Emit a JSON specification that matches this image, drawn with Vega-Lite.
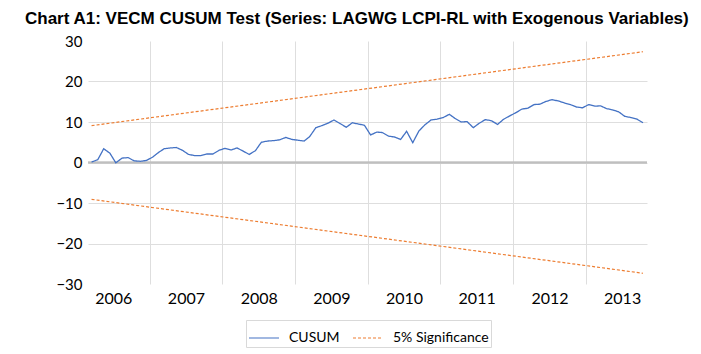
{
  "$schema": "https://vega.github.io/schema/vega-lite/v6.json",
  "width": 559,
  "height": 243,
  "autosize": {"type": "none"},
  "padding": {"left": 88, "top": 41, "right": 54, "bottom": 70},
  "background": "white",
  "title": {
    "text": "Chart A1: VECM CUSUM Test (Series: LAGWG LCPI-RL with Exogenous Variables)",
    "font": "Liberation Sans", "fontSize": 17, "fontWeight": "bold", "color": "#000000",
    "anchor": "start", "frame": "group", "dx": -63, "offset": 6
  },
  "config": {
    "view": {"stroke": null},
    "legend": {
      "orient": "none", "legendX": 158, "legendY": 279, "direction": "horizontal", "title": null,
      "labelFont": "Lato", "labelFontSize": 14, "labelColor": "#000000",
      "symbolType": "stroke", "symbolSize": 900, "symbolStrokeWidth": 1.2,
      "strokeColor": "#d9d9d9", "padding": 2, "columnPadding": 10, "labelOffset": 9
    }
  },
  "datasets": {
    "cusum": [
      {"date": "2006-03-15", "series": "CUSUM", "value": 0.1},
      {"date": "2006-04-15", "series": "CUSUM", "value": 0.7},
      {"date": "2006-05-15", "series": "CUSUM", "value": 3.4},
      {"date": "2006-06-15", "series": "CUSUM", "value": 2.3},
      {"date": "2006-07-15", "series": "CUSUM", "value": -0.1},
      {"date": "2006-08-15", "series": "CUSUM", "value": 1.1},
      {"date": "2006-09-15", "series": "CUSUM", "value": 1.2},
      {"date": "2006-10-15", "series": "CUSUM", "value": 0.4},
      {"date": "2006-11-15", "series": "CUSUM", "value": 0.3},
      {"date": "2006-12-15", "series": "CUSUM", "value": 0.5},
      {"date": "2007-01-15", "series": "CUSUM", "value": 1.3},
      {"date": "2007-02-15", "series": "CUSUM", "value": 2.5},
      {"date": "2007-03-15", "series": "CUSUM", "value": 3.4},
      {"date": "2007-04-15", "series": "CUSUM", "value": 3.6},
      {"date": "2007-05-15", "series": "CUSUM", "value": 3.7},
      {"date": "2007-06-15", "series": "CUSUM", "value": 3.0},
      {"date": "2007-07-15", "series": "CUSUM", "value": 2.0},
      {"date": "2007-08-15", "series": "CUSUM", "value": 1.7},
      {"date": "2007-09-15", "series": "CUSUM", "value": 1.7},
      {"date": "2007-10-15", "series": "CUSUM", "value": 2.1},
      {"date": "2007-11-15", "series": "CUSUM", "value": 2.1},
      {"date": "2007-12-15", "series": "CUSUM", "value": 3.0},
      {"date": "2008-01-15", "series": "CUSUM", "value": 3.5},
      {"date": "2008-02-15", "series": "CUSUM", "value": 3.1},
      {"date": "2008-03-15", "series": "CUSUM", "value": 3.6},
      {"date": "2008-04-15", "series": "CUSUM", "value": 2.8},
      {"date": "2008-05-15", "series": "CUSUM", "value": 2.0},
      {"date": "2008-06-15", "series": "CUSUM", "value": 2.9},
      {"date": "2008-07-15", "series": "CUSUM", "value": 5.0},
      {"date": "2008-08-15", "series": "CUSUM", "value": 5.3},
      {"date": "2008-09-15", "series": "CUSUM", "value": 5.4},
      {"date": "2008-10-15", "series": "CUSUM", "value": 5.6},
      {"date": "2008-11-15", "series": "CUSUM", "value": 6.2},
      {"date": "2008-12-15", "series": "CUSUM", "value": 5.7},
      {"date": "2009-01-15", "series": "CUSUM", "value": 5.5},
      {"date": "2009-02-15", "series": "CUSUM", "value": 5.3},
      {"date": "2009-03-15", "series": "CUSUM", "value": 6.4},
      {"date": "2009-04-15", "series": "CUSUM", "value": 8.6},
      {"date": "2009-05-15", "series": "CUSUM", "value": 9.1},
      {"date": "2009-06-15", "series": "CUSUM", "value": 9.7},
      {"date": "2009-07-15", "series": "CUSUM", "value": 10.5},
      {"date": "2009-08-15", "series": "CUSUM", "value": 9.6},
      {"date": "2009-09-15", "series": "CUSUM", "value": 8.7},
      {"date": "2009-10-15", "series": "CUSUM", "value": 9.8},
      {"date": "2009-11-15", "series": "CUSUM", "value": 9.5},
      {"date": "2009-12-15", "series": "CUSUM", "value": 9.2},
      {"date": "2010-01-15", "series": "CUSUM", "value": 6.8},
      {"date": "2010-02-15", "series": "CUSUM", "value": 7.5},
      {"date": "2010-03-15", "series": "CUSUM", "value": 7.4},
      {"date": "2010-04-15", "series": "CUSUM", "value": 6.5},
      {"date": "2010-05-15", "series": "CUSUM", "value": 6.3},
      {"date": "2010-06-15", "series": "CUSUM", "value": 5.7},
      {"date": "2010-07-15", "series": "CUSUM", "value": 7.7},
      {"date": "2010-08-15", "series": "CUSUM", "value": 4.9},
      {"date": "2010-09-15", "series": "CUSUM", "value": 7.8},
      {"date": "2010-10-15", "series": "CUSUM", "value": 9.3},
      {"date": "2010-11-15", "series": "CUSUM", "value": 10.5},
      {"date": "2010-12-15", "series": "CUSUM", "value": 10.7},
      {"date": "2011-01-15", "series": "CUSUM", "value": 11.1},
      {"date": "2011-02-15", "series": "CUSUM", "value": 11.9},
      {"date": "2011-03-15", "series": "CUSUM", "value": 10.9},
      {"date": "2011-04-15", "series": "CUSUM", "value": 10.0},
      {"date": "2011-05-15", "series": "CUSUM", "value": 10.1},
      {"date": "2011-06-15", "series": "CUSUM", "value": 8.6},
      {"date": "2011-07-15", "series": "CUSUM", "value": 9.7},
      {"date": "2011-08-15", "series": "CUSUM", "value": 10.6},
      {"date": "2011-09-15", "series": "CUSUM", "value": 10.3},
      {"date": "2011-10-15", "series": "CUSUM", "value": 9.4},
      {"date": "2011-11-15", "series": "CUSUM", "value": 10.7},
      {"date": "2011-12-15", "series": "CUSUM", "value": 11.5},
      {"date": "2012-01-15", "series": "CUSUM", "value": 12.3},
      {"date": "2012-02-15", "series": "CUSUM", "value": 13.2},
      {"date": "2012-03-15", "series": "CUSUM", "value": 13.4},
      {"date": "2012-04-15", "series": "CUSUM", "value": 14.3},
      {"date": "2012-05-15", "series": "CUSUM", "value": 14.4},
      {"date": "2012-06-15", "series": "CUSUM", "value": 15.1},
      {"date": "2012-07-15", "series": "CUSUM", "value": 15.5},
      {"date": "2012-08-15", "series": "CUSUM", "value": 15.2},
      {"date": "2012-09-15", "series": "CUSUM", "value": 14.7},
      {"date": "2012-10-15", "series": "CUSUM", "value": 14.3},
      {"date": "2012-11-15", "series": "CUSUM", "value": 13.7},
      {"date": "2012-12-15", "series": "CUSUM", "value": 13.5},
      {"date": "2013-01-15", "series": "CUSUM", "value": 14.3},
      {"date": "2013-02-15", "series": "CUSUM", "value": 13.9},
      {"date": "2013-03-15", "series": "CUSUM", "value": 14.0},
      {"date": "2013-04-15", "series": "CUSUM", "value": 13.3},
      {"date": "2013-05-15", "series": "CUSUM", "value": 13.0},
      {"date": "2013-06-15", "series": "CUSUM", "value": 12.5},
      {"date": "2013-07-15", "series": "CUSUM", "value": 11.4},
      {"date": "2013-08-15", "series": "CUSUM", "value": 11.1},
      {"date": "2013-09-15", "series": "CUSUM", "value": 10.7},
      {"date": "2013-10-15", "series": "CUSUM", "value": 9.8}
    ],
    "sig": [
      {"date": "2006-03-15", "series": "5% Significance", "band": "upper", "value": 9.1},
      {"date": "2013-10-15", "series": "5% Significance", "band": "upper", "value": 27.35},
      {"date": "2006-03-15", "series": "5% Significance", "band": "lower", "value": -9.1},
      {"date": "2013-10-15", "series": "5% Significance", "band": "lower", "value": -27.35}
    ]
  },
  "resolve": {"axis": {"x": "independent"}},
  "layer": [
    {
      "data": {"name": "sig"},
      "mark": {"type": "rule", "color": "#bfbfbf", "strokeWidth": 1.6},
      "encoding": {
        "y": {
          "datum": 0, "type": "quantitative", "scale": {"domain": [-30, 30], "nice": false},
          "axis": {
            "title": null, "domain": false, "ticks": false, "grid": true,
            "values": [-30, -20, -10, 0, 10, 20, 30],
            "labelFont": "Lato", "labelFontSize": 15, "labelColor": "#000000", "labelPadding": 6,
            "gridColor": {"condition": {"test": "abs(datum.value) == 30", "value": "transparent"}, "value": "#dedede"},
            "gridWidth": 1
          }
        }
      }
    },
    {
      "data": {"name": "sig"},
      "mark": {"type": "line", "strokeWidth": 1.2},
      "encoding": {
        "x": {
          "field": "date", "type": "temporal",
          "scale": {"domain": [{"year": 2006, "month": 2, "date": 25, "utc": true}, {"year": 2013, "month": 11, "date": 4, "utc": true}]},
          "axis": {
            "orient": "bottom", "title": null, "labels": false, "ticks": false, "domain": false,
            "grid": true, "gridColor": "#dedede", "gridWidth": 1,
            "values": [
              {"year": 2007, "month": 1, "date": 1, "utc": true},
              {"year": 2008, "month": 1, "date": 1, "utc": true},
              {"year": 2009, "month": 1, "date": 1, "utc": true},
              {"year": 2010, "month": 1, "date": 1, "utc": true},
              {"year": 2011, "month": 1, "date": 1, "utc": true},
              {"year": 2012, "month": 1, "date": 1, "utc": true},
              {"year": 2013, "month": 1, "date": 1, "utc": true}
            ]
          }
        },
        "y": {"field": "value", "type": "quantitative"},
        "detail": {"field": "band"},
        "color": {"field": "series", "type": "nominal", "scale": {"domain": ["CUSUM", "5% Significance"], "range": ["#4472C4", "#ED7D31"]}},
        "strokeDash": {"field": "series", "type": "nominal", "scale": {"domain": ["CUSUM", "5% Significance"], "range": [[1, 0], [3, 2]]}}
      }
    },
    {
      "data": {"name": "cusum"},
      "mark": {"type": "line", "strokeWidth": 1.3},
      "encoding": {
        "x": {
          "field": "date", "type": "temporal",
          "axis": {
            "orient": "bottom", "title": null, "grid": false, "ticks": false, "domain": false,
            "format": "%Y", "labelFlush": false, "labelOverlap": false,
            "labelFont": "Lato", "labelFontSize": 16, "labelColor": "#000000", "labelPadding": 6,
            "values": [
              {"year": 2006, "month": 7, "date": 2, "utc": true},
              {"year": 2007, "month": 7, "date": 2, "utc": true},
              {"year": 2008, "month": 7, "date": 2, "utc": true},
              {"year": 2009, "month": 7, "date": 2, "utc": true},
              {"year": 2010, "month": 7, "date": 2, "utc": true},
              {"year": 2011, "month": 7, "date": 2, "utc": true},
              {"year": 2012, "month": 7, "date": 2, "utc": true},
              {"year": 2013, "month": 7, "date": 2, "utc": true}
            ]
          }
        },
        "y": {"field": "value", "type": "quantitative"},
        "color": {"field": "series", "type": "nominal"},
        "strokeDash": {"field": "series", "type": "nominal"}
      }
    }
  ]
}
